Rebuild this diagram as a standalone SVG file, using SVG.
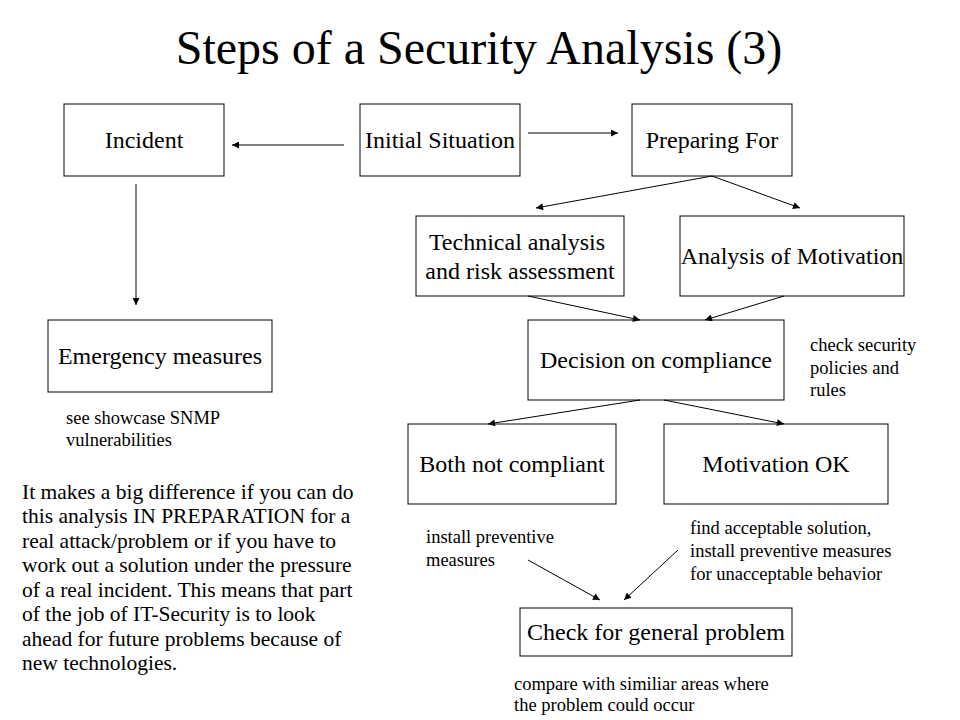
<svg xmlns="http://www.w3.org/2000/svg" width="960" height="720" viewBox="0 0 960 720">
<style>
.box{fill:#fff;stroke:#000;stroke-width:1}
.t{font-family:"Liberation Serif","Times New Roman",serif;fill:#000}
.n{font-size:24px;text-anchor:middle}
.s{font-size:18.5px}
.p{font-size:21.5px}
.c line{stroke:#000;stroke-width:1;marker-end:url(#ah)}
</style>
<defs>
<marker id="ah" viewBox="0 0 10 10" refX="10" refY="5" markerWidth="10" markerHeight="7" markerUnits="userSpaceOnUse" orient="auto">
<path d="M0,0 L10,5 L0,10 z" fill="#000"/>
</marker>
</defs>
<rect width="960" height="720" fill="#fff"/>
<text class="t" x="479" y="64" font-size="48" text-anchor="middle">Steps of a Security Analysis (3)</text>

<g id="incident"><rect class="box" x="64" y="104" width="160" height="72"/><text class="t n" x="144" y="148">Incident</text></g>
<g id="initial"><rect class="box" x="360" y="104" width="160" height="72"/><text class="t n" x="440" y="148">Initial Situation</text></g>
<g id="preparing"><rect class="box" x="632" y="104" width="160" height="72"/><text class="t n" x="712" y="148">Preparing For</text></g>
<g id="technical"><rect class="box" x="416" y="216" width="208" height="80"/><text class="t n" x="517" y="250">Technical analysis</text><text class="t n" x="520" y="279">and risk assessment</text></g>
<g id="motivation"><rect class="box" x="680" y="216" width="224" height="80"/><text class="t n" x="792" y="264">Analysis of Motivation</text></g>
<g id="emergency"><rect class="box" x="48" y="320" width="224" height="72"/><text class="t n" x="160" y="364">Emergency measures</text></g>
<g id="decision"><rect class="box" x="528" y="320" width="256" height="80"/><text class="t n" x="656" y="368">Decision on compliance</text></g>
<g id="both"><rect class="box" x="408" y="424" width="208" height="80"/><text class="t n" x="512" y="472">Both not compliant</text></g>
<g id="motok"><rect class="box" x="664" y="424" width="224" height="80"/><text class="t n" x="776" y="472">Motivation OK</text></g>
<g id="check"><rect class="box" x="520" y="608" width="272" height="48"/><text class="t n" x="656" y="640">Check for general problem</text></g>

<g class="c" id="connectors">
<line x1="344" y1="145" x2="232" y2="145"/>
<line x1="528" y1="133" x2="618" y2="133"/>
<line x1="136" y1="184" x2="136" y2="305"/>
<line x1="712" y1="176" x2="536" y2="208"/>
<line x1="712" y1="176" x2="800" y2="208"/>
<line x1="528" y1="296" x2="640" y2="320"/>
<line x1="784" y1="296" x2="705" y2="320"/>
<line x1="640" y1="400" x2="488" y2="424"/>
<line x1="664" y1="400" x2="784" y2="424"/>
<line x1="528" y1="560" x2="600" y2="600"/>
<line x1="678" y1="550" x2="624" y2="600"/>
</g>

<g id="notes">
<text class="t s" x="66" y="424">see showcase SNMP</text>
<text class="t s" x="66" y="446">vulnerabilities</text>
<text class="t s" x="810" y="351">check security</text>
<text class="t s" x="810" y="374">policies and</text>
<text class="t s" x="810" y="396">rules</text>
<text class="t s" x="426" y="543">install preventive</text>
<text class="t s" x="426" y="566">measures</text>
<text class="t s" x="690" y="534">find acceptable solution,</text>
<text class="t s" x="690" y="557">install preventive measures</text>
<text class="t s" x="690" y="580">for unacceptable behavior</text>
<text class="t s" x="514" y="690">compare with similiar areas where</text>
<text class="t s" x="514" y="711">the problem could occur</text>
<text class="t p" x="22" y="499">It makes a big difference if you can do</text>
<text class="t p" x="22" y="523">this analysis IN PREPARATION for a</text>
<text class="t p" x="22" y="548">real attack/problem or if you have to</text>
<text class="t p" x="22" y="572">work out a solution under the pressure</text>
<text class="t p" x="22" y="597">of a real incident. This means that part</text>
<text class="t p" x="22" y="621">of the job of  IT-Security is to look</text>
<text class="t p" x="22" y="646">ahead for future problems because of</text>
<text class="t p" x="22" y="670">new technologies.</text>
</g>
</svg>
